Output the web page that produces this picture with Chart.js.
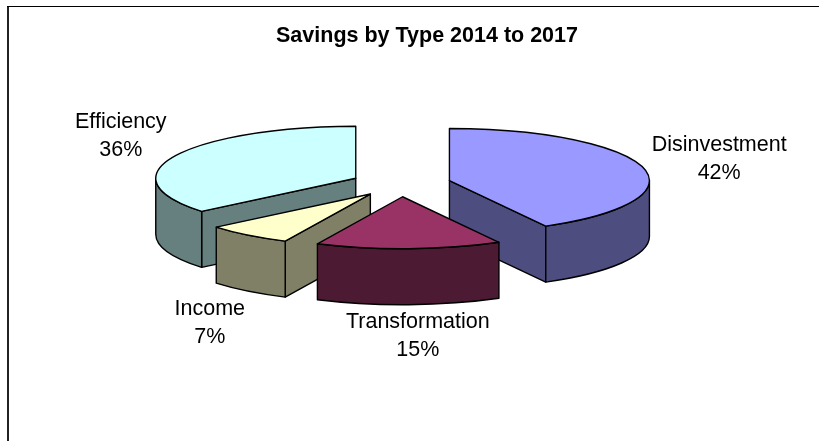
<!DOCTYPE html>
<html>
<head>
<meta charset="utf-8">
<style>
  html, body { margin: 0; padding: 0; background: #fff; }
  canvas { display: block; }
</style>
<script src="https://cdn.jsdelivr.net/npm/chart.js@4/dist/chart.umd.js"></script>
</head>
<body>
<canvas id="chart" width="819" height="441"></canvas>
<script>
// Savings split by type, in percent, clockwise from twelve o'clock.
const categories = ['Disinvestment', 'Transformation', 'Income', 'Efficiency'];
const savings = [42, 15, 7, 36];
const topColours = ['#9999FF', '#993366', '#FFFFCC', '#CCFFFF'];
const wallColours = ['#4D4D80', '#4D1A33', '#808066', '#668080'];
const labelNudges = [[76, -9], [9, 87], [-38, 88], [-54, -20]];

const TILT = 0.26;        // vertical squash of the pie disc
const DEPTH = 56;         // height of the extruded side walls
const RADIUS = 200;
const EXPLODE = 50;       // how far each slice is pulled out from the pie centre
const TITLE_SHIFT = 26;

// Pie controller that paints each slice as a tilted, extruded wedge.
class Pie3DController extends Chart.PieController {
  draw() {
    const ctx = this.chart.ctx;
    const arcs = this.getMeta().data;
    // Back-to-front, so nearer slices cover the walls of those behind.
    const order = arcs.slice().sort((p, q) => sliceCentre(p).y - sliceCentre(q).y);
    for (const arc of order) {
      const c = sliceCentre(arc);
      const { startAngle: a, endAngle: b, outerRadius: r } = arc;
      const ry = r * TILT;
      const wall = wallColours[arcs.indexOf(arc)];
      ctx.save();
      ctx.lineWidth = 1.4;
      ctx.strokeStyle = '#000';
      ctx.lineJoin = 'round';

      // Radial faces that turn towards the viewer.
      if (Math.cos(a) < -1e-6) face(ctx, c, a, r, ry, wall);
      if (Math.cos(b) > 1e-6) face(ctx, c, b, r, ry, wall);

      // Rim wall: only the front half of the circle is visible.
      const from = Math.max(a, 0), to = Math.min(b, Math.PI);
      if (to > from) {
        ctx.beginPath();
        ctx.ellipse(c.x, c.y, r, ry, 0, from, to);
        ctx.ellipse(c.x, c.y + DEPTH, r, ry, 0, to, from, true);
        ctx.closePath();
        ctx.fillStyle = wall;
        ctx.fill();
        ctx.stroke();
      }

      // Top surface comes from the arc element itself, moved out and squashed.
      ctx.save();
      ctx.translate(c.x, c.y);
      ctx.scale(1, TILT);
      ctx.translate(-arc.x, -arc.y);
      arc.draw(ctx);
      ctx.restore();

      // Outline stroked unsquashed so the line keeps an even weight.
      ctx.beginPath();
      ctx.moveTo(c.x, c.y);
      ctx.ellipse(c.x, c.y, r, ry, 0, a, b);
      ctx.closePath();
      ctx.stroke();
      ctx.restore();
    }
  }
}
Pie3DController.id = 'pie3d';
Pie3DController.defaults = Chart.PieController.defaults;
Pie3DController.overrides = Chart.PieController.overrides;
Chart.register(Pie3DController);

// Centre of an exploded slice on the tilted disc.
function sliceCentre(arc) {
  const mid = (arc.startAngle + arc.endAngle) / 2;
  return { x: arc.x + Math.cos(mid) * EXPLODE, y: arc.y + Math.sin(mid) * EXPLODE * TILT };
}

function face(ctx, c, angle, r, ry, colour) {
  const x = c.x + Math.cos(angle) * r, y = c.y + Math.sin(angle) * ry;
  ctx.beginPath();
  ctx.moveTo(c.x, c.y);
  ctx.lineTo(x, y);
  ctx.lineTo(x, y + DEPTH);
  ctx.lineTo(c.x, c.y + DEPTH);
  ctx.closePath();
  ctx.fillStyle = colour;
  ctx.fill();
  ctx.stroke();
}

// Outer frame of the chart object: left and top edges only.
const framePlugin = {
  id: 'frame',
  beforeDraw(chart) {
    const ctx = chart.ctx;
    ctx.save();
    ctx.fillStyle = '#222';
    ctx.fillRect(7, 6, 2, chart.height - 6);
    ctx.fillStyle = '#000';
    ctx.fillRect(7, 6, chart.width - 7, 1);
    ctx.restore();
  }
};

// Moves the title block off the pie's centre line.
const titlePlacement = {
  id: 'titlePlacement',
  afterLayout(chart) {
    chart.titleBlock.left += TITLE_SHIFT;
    chart.titleBlock.right += TITLE_SHIFT;
  }
};

// Category name and rounded percentage beside each slice.
const sliceLabels = {
  id: 'sliceLabels',
  afterDatasetsDraw(chart) {
    const ctx = chart.ctx;
    const arcs = chart.getDatasetMeta(0).data;
    ctx.save();
    ctx.font = '21.5px "Liberation Sans", Arial, sans-serif';
    ctx.fillStyle = '#000';
    ctx.textAlign = 'center';
    ctx.textBaseline = 'middle';
    arcs.forEach((arc, i) => {
      const c = sliceCentre(arc);
      const mid = (arc.startAngle + arc.endAngle) / 2;
      const x = c.x + Math.cos(mid) * arc.outerRadius + labelNudges[i][0];
      const y = c.y + Math.sin(mid) * arc.outerRadius * TILT + labelNudges[i][1];
      ctx.fillText(categories[i], x, y - 14);
      ctx.fillText(savings[i] + '%', x, y + 14);
    });
    ctx.restore();
  }
};

new Chart(document.getElementById('chart'), {
  type: 'pie3d',
  data: {
    labels: categories,
    datasets: [{
      data: savings,
      backgroundColor: topColours,
      borderWidth: 0,
      radius: RADIUS
    }]
  },
  options: {
    responsive: false,
    animation: false,
    events: [],
    layout: { padding: { left: 0, right: 17, top: 0, bottom: 120 } },
    plugins: {
      legend: { display: false },
      tooltip: { enabled: false },
      title: {
        display: true,
        text: 'Savings by Type 2014 to 2017',
        color: '#000',
        font: { family: '"Liberation Sans", Arial, sans-serif', size: 21.5, weight: 'bold', lineHeight: 1 },
        padding: { top: 25, bottom: 0 }
      }
    }
  },
  plugins: [framePlugin, titlePlacement, sliceLabels]
});
</script>
</body>
</html>
